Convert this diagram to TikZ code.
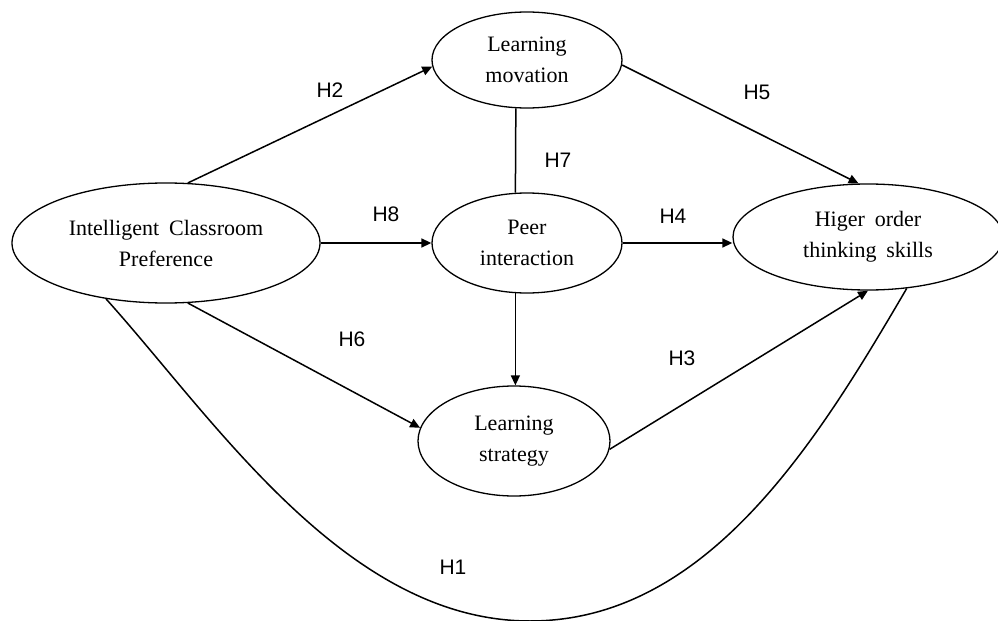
\documentclass[tikz,border=0pt]{standalone}
\usepackage{fontspec}
\setmainfont{Liberation Serif}[WordSpace=1.8]
\newfontfamily\rotulofont{Liberation Sans}
\usetikzlibrary{shapes.geometric, arrows.meta}

\begin{document}
\begin{tikzpicture}[
		    x=0.5pt, y=-0.5pt,
		    line width=0.75pt,
		    every node/.style={inner sep=0pt}
		]
		\tikzset{
		    elipse/.style={draw, line width=0.65pt, ellipse, align=center, font=\fontsize{11}{15.5}\selectfont},
		    rotulo/.style={font=\rotulofont\fontsize{10.5}{12}\selectfont},
		    seta/.style={-{Triangle[length=5pt, width=4.5pt]}}
		}
		\useasboundingbox (0,0) rectangle (998,621);
		\node[elipse, minimum width=154pt, minimum height=60pt] (preferencia) at (166,243) {Intelligent Classroom\\Preference};
		\node[elipse, minimum width=95pt, minimum height=48pt] (motivacao) at (527,60) {Learning\\movation};
		\node[elipse, minimum width=95pt, minimum height=50pt] (interacao) at (527,243) {Peer\\interaction};
		\node[elipse, minimum width=96pt, minimum height=55pt] (estrategia) at (514,441) {Learning\\strategy};
		\node[elipse, minimum width=135pt, minimum height=53pt] (pensamento) at (868,237) {Higer order\\thinking skills};
		\coordinate (fundo) at (530,621);
		% setas
		\draw[seta] (preferencia.70) -- (motivacao.184);
		\draw[seta] (motivacao.-3) -- (pensamento.100);
		\draw (motivacao.257) -- (interacao.103);
		\draw[seta] (preferencia.east) -- (interacao.west);
		\draw[seta] (interacao.east) -- (interacao.east -| pensamento.west);
		\draw[seta] (interacao.257) -- (interacao.257 |- estrategia.north);
		\draw[seta] (preferencia.290) -- (estrategia.172);
		\draw[seta] (estrategia.-5) -- (pensamento.south);
		\draw (preferencia.223) .. controls (215,420) and (346,621) .. (fundo)
		    .. controls (708,621) and (818,440) .. (pensamento.307);
		% hipoteses
		\node[rotulo] (h1) at (453,567) {H1};
		\node[rotulo] (h2) at (330,90) {H2};
		\node[rotulo] (h3) at (682,358) {H3};
		\node[rotulo] (h4) at (673,216) {H4};
		\node[rotulo] (h5) at (757,92) {H5};
		\node[rotulo] (h6) at (352,339) {H6};
		\node[rotulo] (h7) at (558,160) {H7};
		\node[rotulo] (h8) at (386,214) {H8};
\end{tikzpicture}
\end{document}
